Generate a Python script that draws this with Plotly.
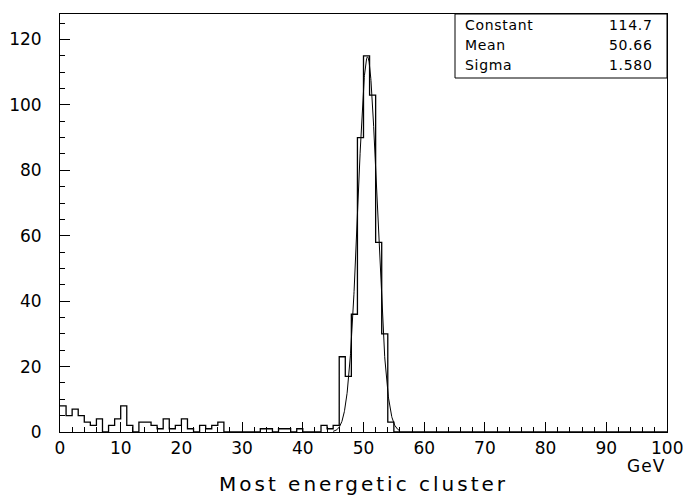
import numpy as np
import plotly.graph_objects as go

# Histogram: 100 bins of 1 GeV from 0 to 100
bin_edges = list(range(0, 101))
counts = [8, 5, 7, 5, 3, 2, 4, 0, 2, 4,
          8, 2, 0, 3, 3, 2, 1, 4, 1, 2,
          4, 1, 0, 2, 1, 2, 3, 0, 0, 0,
          0, 0, 0, 1, 1, 0, 1, 1, 0, 1,
          0, 0, 0, 2, 1, 2, 23, 17, 36, 90,
          115, 103, 58, 30, 3, 0, 0, 0, 0, 0] + [0] * 40

# Gaussian fit parameters (from the stats box)
fit_names = ["Constant", "Mean", "Sigma"]
fit_values = ["114.7", "50.66", "1.580"]
fit_const, fit_mean, fit_sigma = 114.7, 50.66, 1.580
fit_range = [45.0, 56.0]

x_ticks = [0, 10, 20, 30, 40, 50, 60, 70, 80, 90, 100]
y_ticks = [0, 20, 40, 60, 80, 100, 120]

FONT = "DejaVu Sans"


def spaced(text, px):
    return f'<span style="letter-spacing:{px}px">{text}</span>'


fig = go.Figure()

# step outline of histogram
xs = bin_edges
ys = counts + [counts[-1]]
fig.add_trace(go.Scatter(x=xs, y=ys, mode="lines", line=dict(shape="hv", color="black", width=1.3),
                         hoverinfo="skip", showlegend=False))

# fit curve
xf = np.linspace(fit_range[0], fit_range[1], 400)
yf = fit_const * np.exp(-0.5 * ((xf - fit_mean) / fit_sigma) ** 2)
fig.add_trace(go.Scatter(x=xf, y=yf, mode="lines", line=dict(color="black", width=1),
                         hoverinfo="skip", showlegend=False))

axis_common = dict(showgrid=False, zeroline=False, showline=True, linecolor="black", linewidth=1,
                   mirror=True, ticks="inside", ticklen=10, tickcolor="black", tickwidth=1,
                   automargin=False,
                   tickfont=dict(family=FONT, size=17, color="black"))

fig.update_xaxes(range=[0, 100], tickvals=x_ticks[:-1], ticktext=[str(v) for v in x_ticks[:-1]],
                 minor=dict(ticks="inside", ticklen=5, dtick=2, tick0=0, tickcolor="black"),
                 ticklabelstandoff=1, **axis_common)
fig.update_yaxes(range=[0, 127.8], tickvals=y_ticks, ticktext=[str(v) for v in y_ticks],
                 minor=dict(ticks="inside", ticklen=5, dtick=5, tick0=0, tickcolor="black"),
                 ticklabelstandoff=14, **axis_common)

# last x tick label (would be dropped by plotly since it overflows the page)
fig.add_annotation(xref="x", yref="paper", x=x_ticks[-1], y=-(448 - 432) / 418, text=str(x_ticks[-1]),
                   showarrow=False, xanchor="center", yanchor="middle",
                   font=dict(family=FONT, size=17, color="black"))

# stats box
fig.add_shape(type="rect", xref="paper", yref="paper", x0=(455 - 60) / 607, x1=1.0,
              y0=(432 - 78) / 418, y1=1.0, line=dict(color="black", width=1), fillcolor="white")
row_y = [25, 45, 65]
for name, val, ry in zip(fit_names, fit_values, row_y):
    yp = (432 - ry) / 418
    fig.add_annotation(xref="paper", yref="paper", x=(463 - 60) / 607, y=yp, text=spaced(name, 0.7),
                       showarrow=False, xanchor="left", yanchor="middle",
                       font=dict(family=FONT, size=14, color="black"))
    fig.add_annotation(xref="paper", yref="paper", x=(655 - 60) / 607, y=yp, text=spaced(val, 0.7),
                       showarrow=False, xanchor="right", yanchor="middle",
                       font=dict(family=FONT, size=14, color="black"))

# axis titles
fig.add_annotation(xref="paper", yref="paper", x=1.0, y=-(466 - 432) / 418, text=spaced("GeV", 1),
                   showarrow=False, xanchor="right", yanchor="middle",
                   font=dict(family=FONT, size=17, color="black"))
fig.add_annotation(xref="paper", yref="paper", x=0.5, y=-(484 - 432) / 418,
                   text=spaced("Most energetic cluster", 3),
                   showarrow=False, xanchor="center", yanchor="middle",
                   font=dict(family=FONT, size=20, color="black"))

fig.update_layout(width=683, height=496, margin=dict(l=60, r=16, t=14, b=64, autoexpand=False),
                  paper_bgcolor="white", plot_bgcolor="white", showlegend=False)

fig.write_html("out.html")
